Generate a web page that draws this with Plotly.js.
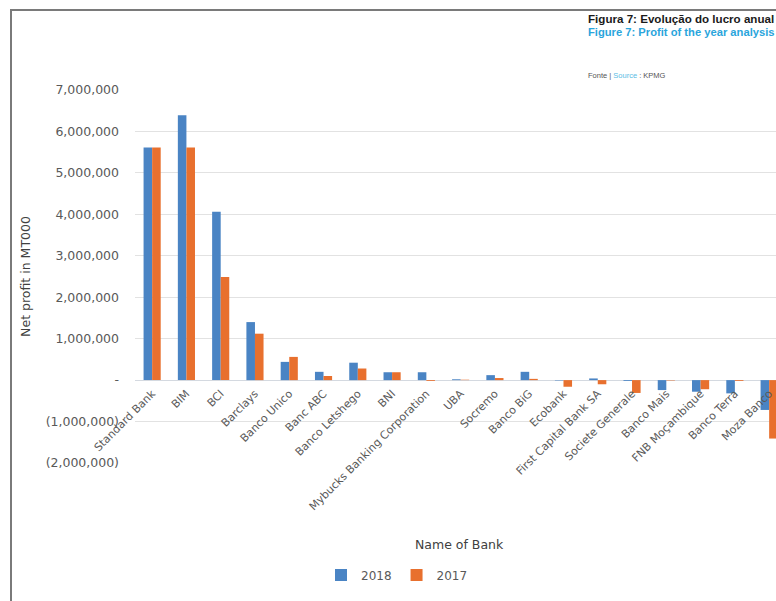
<!DOCTYPE html>
<html>
<head>
<meta charset="utf-8">
<script src="https://cdn.plot.ly/plotly-3.0.1.min.js"></script>
<style>
  html, body { margin: 0; padding: 0; background: #fff; }
  #wrap { position: relative; width: 776px; height: 601px; overflow: hidden; }
  #chart { width: 776px; height: 601px; }
  #frame { position: absolute; left: 10px; top: 9px; width: 800px; height: 620px;
           border-left: 2px solid #7a7a7a; border-top: 2px solid #7a7a7a; pointer-events: none; }
</style>
</head>
<body>
<div id="wrap">
  <div id="chart"></div>
  <div id="frame"></div>
</div>
<script>
const categories = [
  "Standard Bank", "BIM", "BCI", "Barclays", "Banco Unico", "Banc ABC",
  "Banco Letshego", "BNI", "Mybucks Banking Corporation", "UBA", "Socremo",
  "Banco BiG", "Ecobank", "First Capital Bank SA", "Societe Generale",
  "Banco Mais", "FNB Moçambique", "Banco Terra", "Moza Banco"
];
const profit2018 = [5610000, 6390000, 4060000, 1400000, 440000, 200000, 420000, 190000, 190000,
  20000, 120000, 200000, -10000, 40000, -20000, -240000, -280000, -320000, -720000];
const profit2017 = [5610000, 5610000, 2490000, 1120000, 560000, 100000, 280000, 190000, -20000,
  10000, 50000, 30000, -160000, -100000, -310000, -10000, -220000, -20000, -1410000];
const yTickVals = [7000000, 6000000, 5000000, 4000000, 3000000, 2000000, 1000000, 0, -1000000, -2000000];
const yTickText = ["7,000,000", "6,000,000", "5,000,000", "4,000,000", "3,000,000", "2,000,000",
  "1,000,000", "-", "(1,000,000)", "(2,000,000)"];
const seriesNames = ["2018", "2017"];

const FONT = "DejaVu Sans, Arial, sans-serif";
const data = [
  { type: "bar", name: seriesNames[0], x: categories, y: profit2018, marker: { color: "#4a84c4" } },
  { type: "bar", name: seriesNames[1], x: categories, y: profit2017, marker: { color: "#e8702e" } }
];

const yMin = -2000000, yMax = 7000000;
const zeroPos = (0 - yMin) / (yMax - yMin);

const layout = {
  width: 776, height: 601,
  margin: { l: 135, r: 0, t: 89.5, b: 138 },
  paper_bgcolor: "#ffffff", plot_bgcolor: "#ffffff",
  barmode: "group", bargap: 0.5, bargroupgap: 0,
  showlegend: true,
  legend: { orientation: "h", x: (397 - 135) / 641, xanchor: "center", y: -0.30, yanchor: "middle",
            font: { family: FONT, size: 12, color: "#595959" }, itemwidth: 30, tracegroupgap: 0 },
  xaxis: {
    type: "category", range: [-0.5, 18.2], anchor: "free", position: zeroPos,
    tickangle: -45, showgrid: false, showline: false, ticks: "", ticklabelstandoff: 4,
    tickfont: { family: FONT, size: 11, color: "#595959" }
  },
  yaxis: {
    range: [yMin, yMax], tickvals: yTickVals, ticktext: yTickText,
    showgrid: true, gridcolor: "#e2e2e2", gridwidth: 1,
    zeroline: true, zerolinecolor: "#d4d9e0", zerolinewidth: 1,
    showline: false, ticks: "", ticklabelstandoff: 15,
    tickfont: { family: FONT, size: 12.5, color: "#595959" },
    title: { text: "Net profit in MT000", standoff: 12, font: { family: FONT, size: 12.5, color: "#404040" } }
  },
  annotations: [
    { xref: "paper", yref: "paper", x: (460 - 135) / 641, y: (463 - 545) / 373.5,
      xanchor: "center", yanchor: "middle", showarrow: false,
      text: "Name of Bank", font: { family: FONT, size: 12.5, color: "#404040" } },
    { xref: "paper", yref: "paper", x: (586 - 135) / 641, y: (463 - 18) / 373.5,
      xanchor: "left", yanchor: "middle", showarrow: false,
      text: "<b>Figura 7: Evolução do lucro anual</b>", font: { family: "Liberation Sans, Arial, sans-serif", size: 11.6, color: "#1a1a1a" } },
    { xref: "paper", yref: "paper", x: (586 - 135) / 641, y: (463 - 31) / 373.5,
      xanchor: "left", yanchor: "middle", showarrow: false,
      text: "<b>Figure 7: Profit of the year analysis</b>", font: { family: "Liberation Sans, Arial, sans-serif", size: 11.2, color: "#2aa5dc" } },
    { xref: "paper", yref: "paper", x: (586 - 135) / 641, y: (463 - 75) / 373.5,
      xanchor: "left", yanchor: "middle", showarrow: false,
      text: "Fonte | <span style='color:#5bbce4'>Source</span> : KPMG", font: { family: "Liberation Sans, Arial, sans-serif", size: 7.5, color: "#555555" } }
  ]
};

Plotly.newPlot("chart", data, layout, { displayModeBar: false, staticPlot: true });
</script>
</body>
</html>
